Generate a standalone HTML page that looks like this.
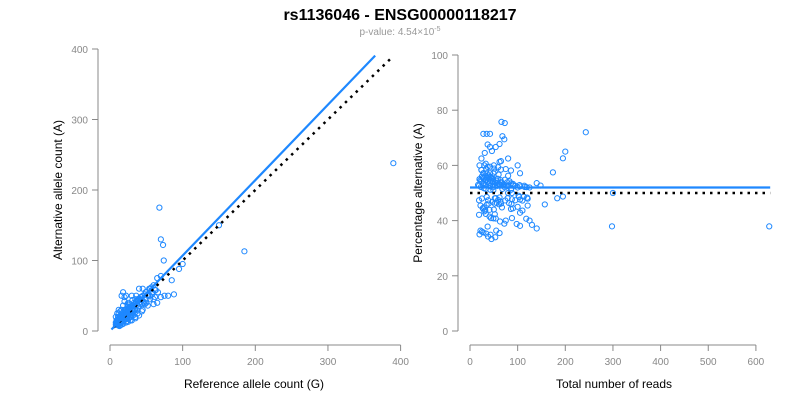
<!DOCTYPE html>
<html><head><meta charset="utf-8"><style>
body{margin:0;background:#fff;font-family:"Liberation Sans",Arial,sans-serif}
svg text{font-family:"Liberation Sans",Arial,sans-serif}
</style></head><body>
<svg id="c" width="800" height="400" xmlns="http://www.w3.org/2000/svg">
<text x="400" y="20" text-anchor="middle" font-size="16" font-weight="bold">rs1136046 - ENSG00000118217</text>
<text x="400" y="35" text-anchor="middle" font-size="10" fill="#999">p-value: 4.54×10<tspan dy="-4" font-size="7">-5</tspan></text>
<g id="left"></g><g id="right"></g>
</svg>
<script>
const refCounts=[390,185,68,70,73,150,100,95,80,85,60,55,50,45,40,35,30,28,25,22,20,18,15,12,10,9,8,11,14,16,19,21,24,26,29,32,34,38,42,48,52,58,62,65,33,27,23,17,13,36,44,31,20,25,30,15,10,18,22,40,46,12,14,16,24,28,35,39,50,55,60,70,26,21,19,17,13,11,9,30,33,37,43,49,27,23,15,20,25,12,18,29,31,41,53,47,22,16,14,10,34,38,24,28,57,63,66,19,13,8,11,21,26,36,44,32,45,54,20,17,28,74,42,88,30,24,15,35,16,12,22,
8,10,12,14,16,18,20,22,25,28,30,11,13,15,17,19,21,23,26,29,32,35,38,40,45,12,9,14,16,18,20,24,27,31,36,42,50,55,22,18,16,20,30,25,40,35,44,48,60,65,52,13,11,9,10,14,16,18,21,23,27,33,38,43,58,62,70,75,12,15,17,19,24];
const altCounts=[238,113,175,130,122,150,95,88,50,72,38,50,55,60,40,45,35,32,28,26,22,24,18,15,12,10,9,14,16,20,22,26,25,30,33,30,38,42,45,52,50,55,48,75,28,30,25,20,15,40,44,36,18,30,35,12,14,22,26,46,42,10,18,20,28,24,38,35,45,60,65,78,32,28,16,22,12,8,11,26,40,30,48,55,25,18,18,24,22,16,14,35,28,38,50,40,30,17,20,14,30,45,28,26,62,58,55,24,16,12,12,18,34,42,38,36,50,60,25,20,22,100,48,52,22,38,20,30,13,18,27,
20,25,30,8,9,10,42,12,40,15,50,20,7,12,13,24,30,14,18,20,22,20,25,60,30,25,15,28,30,36,30,35,38,44,50,44,40,45,50,55,50,48,15,13,22,18,28,38,45,40,36,20,13,11,9,15,18,17,22,26,30,35,42,48,52,58,48,50,16,22,25,14,17];
const leftTicks=[0,100,200,300,400];
const rightXTicks=[0,100,200,300,400,500,600];
const rightYTicks=[0,20,40,60,80,100];
const fitSlope=1.07, fitEnd=365, identityEnd=390;
const pctFit=52, pctNull=50, totalMax=630;
const NS="http://www.w3.org/2000/svg";
function mk(p,t,a){const e=document.createElementNS(NS,t);for(const k in a)e.setAttribute(k,a[k]);p.appendChild(e);return e;}
const lx=v=>110+v*0.7265, ly=v=>331-v*0.705;
const rx=v=>470+v*0.4765, ry=v=>331-v*2.76;
const L=document.getElementById('left'), R=document.getElementById('right');
const axc="#888";
mk(L,'line',{x1:98,y1:ly(0),x2:98,y2:ly(400),stroke:axc});
mk(L,'line',{x1:lx(0),y1:345,x2:lx(400),y2:345,stroke:axc});
leftTicks.forEach(t=>{
 mk(L,'line',{x1:92,y1:ly(t),x2:98,y2:ly(t),stroke:axc});
 const b=mk(L,'text',{x:88,y:ly(t)+4,'text-anchor':'end','font-size':10,fill:'#888'});b.textContent=t;
 
 
 mk(L,'line',{x1:lx(t),y1:345,x2:lx(t),y2:351,stroke:axc});
 const c=mk(L,'text',{x:lx(t),y:365,'text-anchor':'middle','font-size':10,fill:'#888'});c.textContent=t;
 
 
});
let t1=mk(L,'text',{x:254,y:388,'text-anchor':'middle','font-size':12});t1.textContent='Reference allele count (G)';


let t2=mk(L,'text',{x:62,y:190,'text-anchor':'middle','font-size':12,transform:'rotate(-90 62 190)'});t2.textContent='Alternative allele count (A)';


refCounts.forEach((r,i)=>{const c=mk(L,'circle',{cx:lx(r),cy:ly(altCounts[i]),r:2.6,fill:'none',stroke:'#1e88ff','stroke-width':1});
 
 });
let id=mk(L,'line',{x1:lx(5),y1:ly(5),x2:lx(identityEnd),y2:ly(identityEnd),stroke:'#000','stroke-width':2.5,'stroke-dasharray':'2.5 5'});


let fl=mk(L,'line',{x1:lx(2),y1:ly(2*fitSlope),x2:lx(fitEnd),y2:ly(fitEnd*fitSlope),stroke:'#1e88ff','stroke-width':2.2});


mk(R,'line',{x1:458,y1:ry(0),x2:458,y2:ry(100),stroke:axc});
mk(R,'line',{x1:rx(0),y1:345,x2:rx(600),y2:345,stroke:axc});
rightYTicks.forEach(t=>{
 mk(R,'line',{x1:452,y1:ry(t),x2:458,y2:ry(t),stroke:axc});
 const b=mk(R,'text',{x:448,y:ry(t)+4,'text-anchor':'end','font-size':10,fill:'#888'});b.textContent=t;
 
 
});
rightXTicks.forEach(t=>{
 mk(R,'line',{x1:rx(t),y1:345,x2:rx(t),y2:351,stroke:axc});
 const c=mk(R,'text',{x:rx(t),y:365,'text-anchor':'middle','font-size':10,fill:'#888'});c.textContent=t;
 
 
});
let t3=mk(R,'text',{x:614,y:388,'text-anchor':'middle','font-size':12});t3.textContent='Total number of reads';


let t4=mk(R,'text',{x:422,y:193,'text-anchor':'middle','font-size':12,transform:'rotate(-90 422 193)'});t4.textContent='Percentage alternative (A)';


refCounts.forEach((r,i)=>{const tot=r+altCounts[i];const c=mk(R,'circle',{cx:rx(tot),cy:ry(altCounts[i]/tot*100),r:2.6,fill:'none',stroke:'#1e88ff','stroke-width':1});
 
 });
let nl=mk(R,'line',{x1:rx(0),y1:ry(pctNull),x2:rx(totalMax),y2:ry(pctNull),stroke:'#000','stroke-width':2.5,'stroke-dasharray':'2.5 5'});


let pl=mk(R,'line',{x1:rx(0),y1:ry(pctFit),x2:rx(totalMax),y2:ry(pctFit),stroke:'#1e88ff','stroke-width':2.2});


</script>
</body></html>
